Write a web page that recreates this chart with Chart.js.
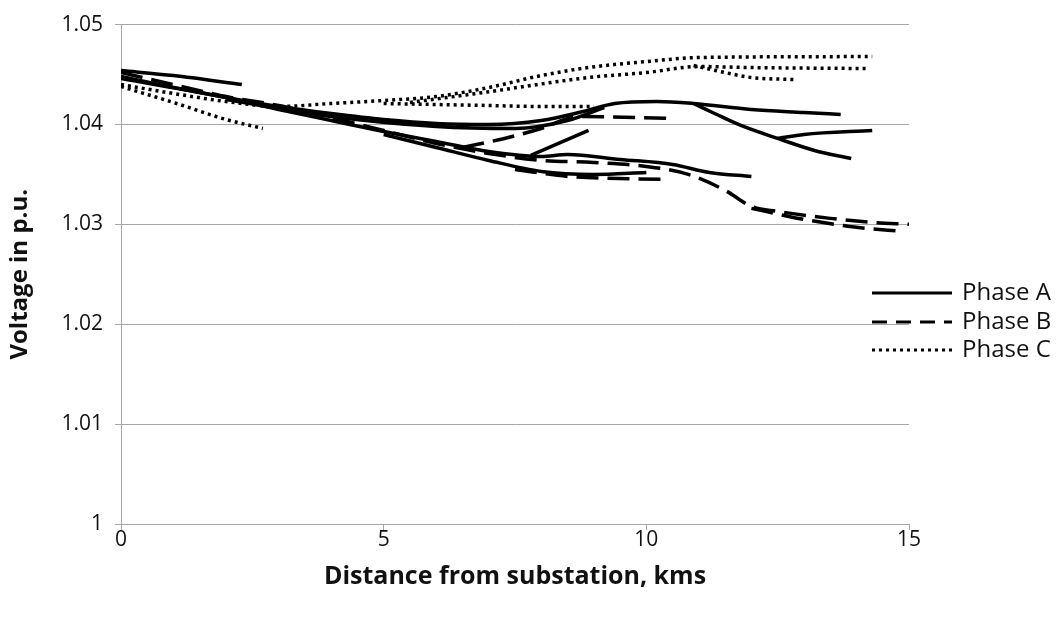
<!DOCTYPE html>
<html>
<head>
<meta charset="utf-8">
<script src="https://cdn.jsdelivr.net/npm/chart.js@4.4.1/dist/chart.umd.min.js"></script>
<style>
  html, body { margin: 0; padding: 0; background: #fff; }
  #wrap { width: 1063px; height: 619px; }
</style>
</head>
<body>
<div id="wrap"><canvas id="voltChart" width="1063" height="619"></canvas></div>
<script>
// distance (km), voltage (p.u.), one array per feeder branch
const phaseA_trunk = [[0,1.0448],[1,1.0437],[2,1.0427],[3,1.0418],[4,1.0411],[5,1.0405],[6,1.0401],[7,1.0400],[8,1.0404],[8.8,1.0413],[9.4,1.0421],[10.2,1.0423],[10.9,1.0421],[12,1.0415],[13,1.0412],[13.7,1.0410]];
const phaseA_band  = [[2,1.0425],[4,1.0408],[6,1.0398],[7.5,1.0396],[8.5,1.0404],[9.2,1.0417]];
const phaseA_top   = [[0,1.0454],[1,1.0449],[2.3,1.0440]];
const phaseA_drop  = [[10.9,1.0421],[11.3,1.0411],[11.8,1.0399],[12.5,1.0386],[13.2,1.0374],[13.9,1.0366]];
const phaseA_end   = [[12.5,1.0386],[13.0,1.0390],[14.3,1.0394]];
const phaseA_low   = [[0,1.0446],[2,1.0427],[3,1.0415],[4,1.0404],[5,1.0393],[6,1.0383],[7,1.0373],[8,1.0368],[8.5,1.0370],[9.5,1.0365],[10.5,1.0360],[11.2,1.0352],[12.0,1.0348]];
const phaseA_spur  = [[7.8,1.0369],[8.9,1.0394]];
const phaseA_low2  = [[5,1.0390],[6,1.0377],[7,1.0364],[8,1.0353],[9,1.0350],[10,1.0352]];

const phaseB_trunk = [[0,1.0452],[1,1.0440],[2,1.0428],[3,1.0419],[4,1.0407],[5,1.0394],[6,1.0381],[7,1.0371],[8,1.0364],[9,1.0362],[10,1.0358],[10.8,1.0350],[11.5,1.0334],[12,1.0318],[12.5,1.0313],[13.5,1.0306],[14.3,1.0302],[15,1.0300]];
const phaseB_rise  = [[6.5,1.0377],[7.3,1.0386],[8,1.0396],[8.7,1.0408],[10.5,1.0406]];
const phaseB_low   = [[7.5,1.0355],[8.5,1.0348],[10.3,1.0345]];
const phaseB_end   = [[12,1.0316],[13,1.0305],[14,1.0297],[14.9,1.0293]];

const phaseC_trunk = [[0,1.0440],[1,1.0431],[2,1.0423],[3,1.0418],[4,1.0421],[5,1.0424],[6,1.0428],[7,1.0437],[8,1.0449],[8.9,1.0457],[10,1.0463],[11,1.0467],[14.3,1.0468]];
const phaseC_mid   = [[5.5,1.0422],[6.9,1.0432],[8.9,1.0447],[10,1.0452],[11,1.0458],[12,1.0457],[14.2,1.0456]];
const phaseC_spur  = [[10.9,1.0459],[11.5,1.0452],[12,1.0447],[12.8,1.0445]];
const phaseC_drop  = [[0,1.0438],[1,1.0422],[2,1.0405],[2.7,1.0396]];
const phaseC_flat  = [[5,1.0421],[7,1.0419],[8,1.0418],[9,1.0418]];

const phaseNames = ['Phase A', 'Phase B', 'Phase C'];
const xTicks = [0, 5, 10, 15];
const yTicks = [1, 1.01, 1.02, 1.03, 1.04, 1.05];

const styles = {
  'Phase A': { dash: [], legendDash: [] },
  'Phase B': { dash: [22, 9], legendDash: [15, 9] },
  'Phase C': { dash: [3, 4], legendDash: [3, 4] }
};

function line(phase, pts) {
  return {
    label: phase,
    data: pts.map(p => ({ x: p[0], y: p[1] })),
    borderColor: '#000',
    borderWidth: 3.5,
    borderDash: styles[phase].dash,
    pointRadius: 0,
    fill: false,
    cubicInterpolationMode: 'monotone'
  };
}

const datasets = [
  line('Phase A', phaseA_trunk), line('Phase A', phaseA_band), line('Phase A', phaseA_top),
  line('Phase A', phaseA_drop), line('Phase A', phaseA_end), line('Phase A', phaseA_low),
  line('Phase A', phaseA_spur), line('Phase A', phaseA_low2),
  line('Phase B', phaseB_trunk), line('Phase B', phaseB_rise), line('Phase B', phaseB_low),
  line('Phase B', phaseB_end),
  line('Phase C', phaseC_trunk), line('Phase C', phaseC_mid), line('Phase C', phaseC_spur),
  line('Phase C', phaseC_drop), line('Phase C', phaseC_flat)
];

// Excel-style legend sitting over the right edge of the plot
const sideLegend = {
  id: 'sideLegend',
  afterDraw(chart) {
    const ctx = chart.ctx;
    const rows = [293, 322, 350];
    ctx.save();
    ctx.font = '24px "Open Sans"';
    ctx.textBaseline = 'middle';
    phaseNames.forEach((name, i) => {
      ctx.beginPath();
      ctx.setLineDash(styles[name].legendDash);
      ctx.lineWidth = 3;
      ctx.strokeStyle = '#000';
      ctx.moveTo(872, rows[i]);
      ctx.lineTo(952, rows[i]);
      ctx.stroke();
      ctx.setLineDash([]);
      ctx.fillStyle = '#111';
      ctx.fillText(name, 962, rows[i]);
    });
    ctx.restore();
  }
};

const chartId = document.getElementById('voltChart').getContext('2d');

const myChart = new Chart(chartId, {
  type: 'line',
  data: { datasets: datasets },
  plugins: [sideLegend],
  options: {
    responsive: false,
    animation: false,
    layout: { padding: { top: 20, right: 154, left: 0, bottom: 0 } },
    plugins: {
      legend: { display: false },
      tooltip: { enabled: false }
    },
    scales: {
      x: {
        type: 'linear',
        min: 0,
        max: 15,
        afterFit: axis => { axis.height = 95; },
        afterBuildTicks: axis => { axis.ticks = xTicks.map(v => ({ value: v })); },
        border: { color: '#a6a6a6', width: 1 },
        grid: { drawOnChartArea: false, color: '#a6a6a6', tickLength: 6 },
        ticks: { color: '#111', padding: 0, font: { family: 'Open Sans', size: 21, lineHeight: 1 } },
        title: {
          display: true,
          text: 'Distance from substation, kms',
          color: '#111',
          font: { family: 'Open Sans', size: 25, weight: 'bold', lineHeight: 1.2 },
          padding: { top: 0, bottom: 27 }
        }
      },
      y: {
        min: 1,
        max: 1.05,
        afterFit: axis => { axis.width = 121; },
        afterBuildTicks: axis => { axis.ticks = yTicks.map(v => ({ value: v })); },
        border: { color: '#a6a6a6', width: 1 },
        grid: { color: '#a6a6a6', tickLength: 6 },
        ticks: {
          color: '#111',
          padding: 12,
          font: { family: 'Open Sans', size: 21 },
          callback: v => String(v)
        },
        title: {
          display: true,
          text: 'Voltage in p.u.',
          color: '#111',
          font: { family: 'Open Sans', size: 24, weight: 'bold', lineHeight: 1.2 },
          padding: { top: 6, bottom: 0 }
        }
      }
    }
  }
});
</script>
</body>
</html>
